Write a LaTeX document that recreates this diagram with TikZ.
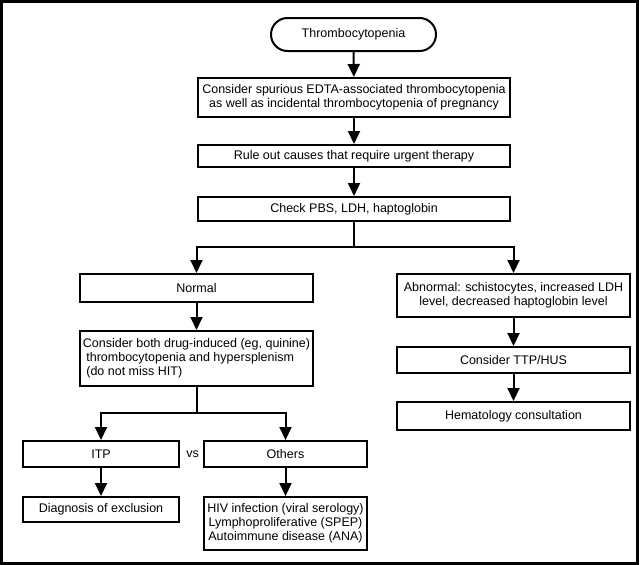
\documentclass[tikz,border=0pt]{standalone}
\usepackage{fontspec}
\setmainfont{Liberation Sans}
\usetikzlibrary{arrows.meta,shapes.misc}
\begin{document}
\begin{tikzpicture}[x=1pt,y=-1pt,
  box/.style={draw,line width=2pt,rectangle,inner sep=0pt,align=center,
    font=\fontsize{12.5}{14}\selectfont},
  arr/.style={line width=2pt,-{Triangle[length=13pt,width=12pt]}},
  ln/.style={line width=2pt}]
\useasboundingbox (0,0) rectangle (640,565);
\draw[line width=2.6pt] (1.3,1.3) rectangle (637.5,563.5);
\node[box,rounded rectangle,minimum width=165pt,minimum height=33pt] (T) at (353.5,34.5) {Thrombocytopenia};
\node[box,minimum width=312pt,minimum height=39pt] (B2) at (354,97.5) {Consider spurious EDTA-associated thrombocytopenia\\ as well as incidental thrombocytopenia of pregnancy};
\node[box,minimum width=312pt,minimum height=22pt] (B3) at (354,156) {Rule out causes that require urgent therapy};
\node[box,minimum width=312pt,minimum height=24pt] (B4) at (354,209) {Check PBS, LDH, haptoglobin};
\node[box,minimum width=233pt,minimum height=28pt] (N) at (196.5,288) {Normal};
\node[box,minimum width=233pt,minimum height=43pt] (A) at (513.5,295.5) {Abnormal: schistocytes, increased LDH\\ level, decreased haptoglobin level};
\node[box,minimum width=233pt,minimum height=55pt,align=left] (C) at (196.5,358.5) {Consider both drug-induced (eg, quinine)\\ \ thrombocytopenia and hypersplenism\\ \ (do not miss HIT)};
\node[box,minimum width=233pt,minimum height=26pt] (TTP) at (513.5,360) {Consider TTP/HUS};
\node[box,minimum width=233pt,minimum height=28pt] (H) at (513.5,416) {Hematology consultation};
\node[box,minimum width=156pt,minimum height=26pt] (I) at (101,454) {ITP};
\node[box,minimum width=163pt,minimum height=26pt] (O) at (285.5,454) {Others};
\node[font=\fontsize{12.5}{14}\selectfont] (vs) at (192.5,454) {vs};
\node[box,minimum width=156pt,minimum height=25pt] (D) at (101,509.5) {Diagnosis of exclusion};
\node[box,minimum width=163pt,minimum height=53pt] (HIV) at (285.5,523.5) {HIV infection (viral serology)\\ Lymphoproliferative (SPEP)\\ Autoimmune disease (ANA)};
\draw[arr] (T) -- (B2);
\draw[arr] (B2) -- (B3);
\draw[arr] (B3) -- (B4);
\coordinate (s1) at (354,247);
\draw[ln] (B4.south) -- (s1);
\draw[arr] (s1) -| (N.north);
\draw[arr] (s1) -| (A.north);
\draw[arr] (N) -- (C);
\draw[arr] (A) -- (TTP);
\draw[arr] (TTP) -- (H);
\coordinate (s2) at (196.5,413);
\draw[ln] (C.south) -- (s2);
\draw[arr] (s2) -| (I.north);
\draw[arr] (s2) -| (O.north);
\draw[arr] (I) -- (D);
\draw[arr] (O) -- (HIV);
\end{tikzpicture}
\end{document}
